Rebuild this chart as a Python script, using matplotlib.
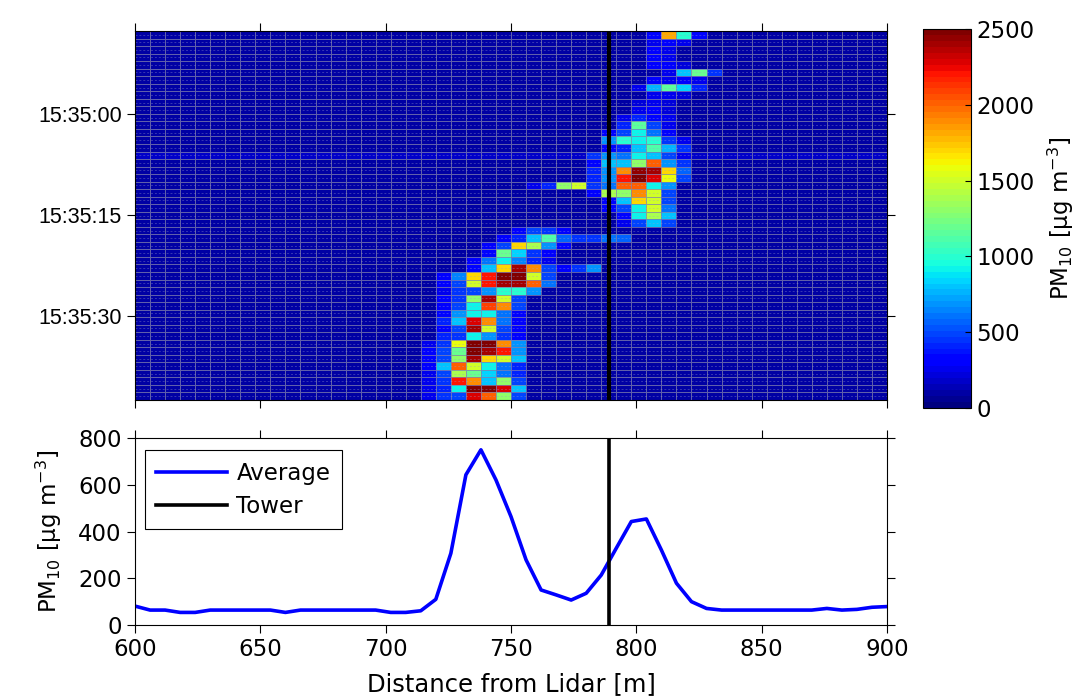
import numpy as np
import matplotlib.pyplot as plt

plt.rcParams['font.family'] = ['DejaVu Sans']
plt.rcParams['mathtext.fontset'] = 'dejavusans'

FS = 16.5

# lidar range gates (m) and scan timing (s relative to 15:35:00)
RANGE_START, RANGE_END, RANGE_STEP = 600, 900, 6
SCAN_START, SCAN_STEP, N_SCANS = -12.33, 1.118, 49
TOWER = 789

TIME_TICKS = [0, 15, 30]
TIME_LABELS = ['15:35:00', '15:35:15', '15:35:30']

# PM10 concentration map: clean-air level plus plume segments (scan, first gate, values)
BACKGROUND = 110
BRIGHT_SCANS = {16: 170}
PLUME = [
    (0, 34, [350, 1800, 1000, 350]),
    (1, 34, [250, 300, 250]),
    (2, 34, [300, 250]),
    (3, 34, [300, 250]),
    (4, 34, [300, 300, 200]),
    (5, 35, [250, 800, 1200, 450]),
    (6, 34, [300, 250, 300, 250]),
    (7, 33, [250, 750, 1150, 850, 400]),
    (8, 34, [250, 250, 200]),
    (9, 33, [200, 250, 200]),
    (10, 33, [250, 300, 200]),
    (11, 32, [250, 400, 350, 250]),
    (12, 32, [400, 1150, 500, 250]),
    (13, 31, [300, 500, 900, 600, 300]),
    (14, 31, [700, 1000, 900, 1000, 450, 250]),
    (15, 31, [350, 400, 800, 1100, 750, 450]),
    (16, 30, [450, 700, 600, 900, 800, 500, 250]),
    (17, 30, [350, 800, 800, 1300, 2000, 700, 450]),
    (18, 30, [400, 700, 1900, 2450, 2400, 1700, 550]),
    (19, 30, [400, 700, 2200, 2500, 2300, 1600, 500]),
    (20, 26, [250, 400, 1300, 1500, 450, 600, 2000, 2000, 900, 700]),
    (21, 30, [300, 1400, 1300, 1900, 1500, 500]),
    (22, 31, [350, 800, 1700, 1500, 500]),
    (23, 31, [300, 500, 900, 1500, 600]),
    (24, 32, [350, 900, 1400, 800]),
    (25, 32, [250, 500, 800, 500]),
    (26, 25, [300, 500, 450, 300]),
    (27, 24, [300, 400, 800, 1100, 550, 450, 450, 600, 550]),
    (28, 23, [300, 500, 1700, 1400, 700, 350]),
    (29, 23, [350, 1200, 850, 450, 300]),
    (30, 22, [300, 600, 900, 650, 400, 250]),
    (31, 22, [350, 800, 1700, 2400, 1900, 500, 300, 450, 700]),
    (32, 20, [300, 650, 1700, 2200, 2500, 2500, 1500, 500]),
    (33, 20, [300, 500, 1500, 2200, 2400, 2400, 2000, 600]),
    (34, 20, [250, 450, 500, 700, 1000, 1000, 700]),
    (35, 20, [300, 450, 1300, 2400, 1500, 500]),
    (36, 20, [300, 500, 900, 2100, 1900, 500]),
    (37, 20, [350, 700, 900, 900, 600, 300]),
    (38, 20, [400, 800, 2300, 1900, 600, 300]),
    (39, 20, [350, 500, 2400, 1500, 500, 300]),
    (40, 20, [400, 450, 900, 700, 450, 300]),
    (41, 19, [250, 450, 1600, 2500, 2500, 1900, 700]),
    (42, 19, [300, 500, 1200, 2500, 2400, 2200, 700]),
    (43, 19, [300, 500, 1300, 2400, 1700, 1500, 800]),
    (44, 19, [300, 800, 2000, 1500, 900, 600, 400]),
    (45, 19, [250, 500, 1400, 1200, 850, 600, 400]),
    (46, 19, [250, 450, 2200, 1900, 800, 1300, 500]),
    (47, 19, [250, 400, 900, 2500, 2500, 2300, 800]),
    (48, 19, [250, 450, 500, 2300, 2000, 1300, 500]),
]

# time-averaged PM10 per range gate
AVG_DIST = np.arange(RANGE_START, RANGE_END + 1, RANGE_STEP)
AVG_PM10 = [81, 64, 64, 54, 54, 64, 64, 64, 64, 64, 54, 64, 64, 64, 64, 64, 64,
            54, 54, 61, 110, 307, 643, 750, 621, 464, 279, 150, 129, 107, 136,
            214, 329, 443, 454, 321, 179, 100, 71, 64, 64, 64, 64, 64, 64, 64,
            71, 64, 67, 76, 79]

n_gates = (RANGE_END - RANGE_START) // RANGE_STEP
pm = np.full((N_SCANS, n_gates), float(BACKGROUND))
for row, level in BRIGHT_SCANS.items():
    pm[row, :] = level
for row, col, vals in PLUME:
    pm[row, col:col + len(vals)] = vals

x_edges = np.arange(RANGE_START, RANGE_END + 1, RANGE_STEP)
t_edges = SCAN_START + SCAN_STEP * np.arange(N_SCANS + 1)

fig = plt.figure(figsize=(10.89, 7.0), dpi=100)
ax_map = fig.add_axes([0.124, 0.4286, 0.6905, 0.527])
ax_avg = fig.add_axes([0.124, 0.1071, 0.6905, 0.267])
cax = fig.add_axes([0.8473, 0.4176, 0.0444, 0.5406])

cmap = plt.get_cmap('jet', 64)
mesh = ax_map.pcolormesh(x_edges, t_edges, pm, cmap=cmap, vmin=0, vmax=2500,
                         edgecolors=(0.5, 0.5, 0.68, 0.75), linewidth=0.5)
# faint scan texture inside each cell
t_mid = 0.5 * (t_edges[:-1] + t_edges[1:])
ax_map.hlines(t_mid, RANGE_START, RANGE_END, colors=(0.62, 0.62, 0.8, 0.35),
              linewidth=0.7, linestyles=(0, (2, 2)))
ax_map.axvline(TOWER, color='black', linewidth=3)
ax_map.set_xlim(RANGE_START, RANGE_END)
ax_map.set_ylim(t_edges[-1], t_edges[0])
ax_map.set_yticks(TIME_TICKS)
ax_map.set_yticklabels(TIME_LABELS, family='Liberation Sans')
ax_map.set_xticks(np.arange(600, 901, 50))
ax_map.set_xticklabels([])

ax_avg.plot(AVG_DIST, AVG_PM10, color='#0000ff', linewidth=2.6, label='Average')
ax_avg.axvline(TOWER, color='black', linewidth=2.6, label='Tower')
ax_avg.set_xlim(RANGE_START, RANGE_END)
ax_avg.set_ylim(0, 800)
ax_avg.set_xticks(np.arange(600, 901, 50))
ax_avg.set_yticks(np.arange(0, 801, 200))
ax_avg.set_xlabel('Distance from Lidar [m]', fontsize=17.5, labelpad=8)
ax_avg.set_ylabel('PM$_{10}$ [μg m$^{-3}$]', fontsize=FS, labelpad=10)
leg = ax_avg.legend(loc='upper left', fontsize=FS, fancybox=False, framealpha=1,
                    edgecolor='black', handlelength=3.1, borderpad=0.5,
                    labelspacing=0.45, handletextpad=0.4, borderaxespad=0,
                    bbox_to_anchor=(0.013, 0.936))
leg.get_frame().set_linewidth(0.8)

for ax in (ax_map, ax_avg):
    ax.tick_params(direction='out', length=6, width=0.8, top=True, right=True,
                   labelsize=FS)
    for sp in ax.spines.values():
        sp.set_linewidth(0.8)
ax_map.tick_params(axis='y', labelsize=15.5)

cbar = fig.colorbar(mesh, cax=cax, ticks=np.arange(0, 2501, 500))
cbar.ax.tick_params(direction='in', length=4, width=0.8, labelsize=FS, pad=4)
cbar.outline.set_linewidth(0.8)
cbar.set_label('PM$_{10}$ [μg m$^{-3}$]', fontsize=FS, labelpad=8)

fig.savefig('out.png', dpi=100)
